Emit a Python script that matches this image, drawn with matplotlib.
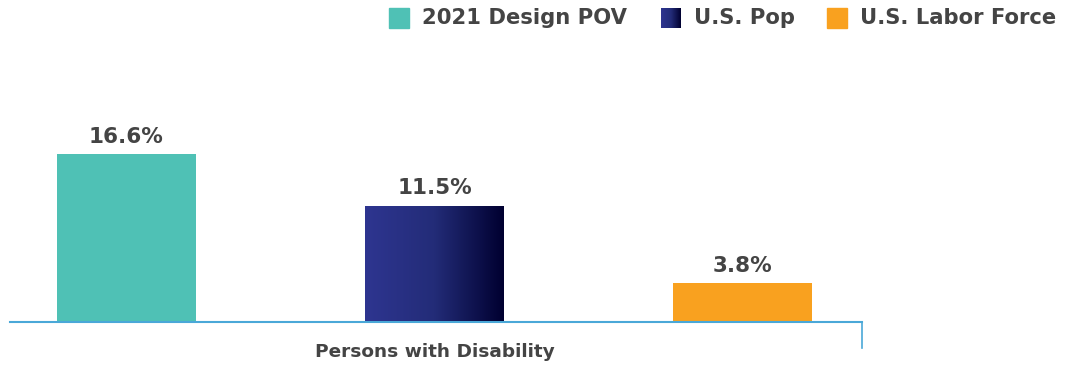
import numpy as np
import matplotlib.pyplot as plt
from matplotlib.patches import Rectangle
from matplotlib.colors import LinearSegmentedColormap

# data
series = ['2021 Design POV', 'U.S. Pop', 'U.S. Labor Force']
values = [16.6, 11.5, 3.8]
category = 'Persons with Disability'

teal = '#4FC1B5'
orange = '#F9A11F'
navy_left = '#2E3590'
navy_right = '#000030'
axis_blue = '#4AA8D8'
text_col = '#444444'

plt.rcParams['font.family'] = ['DejaVu Sans']

W, H = 1069, 367
fig = plt.figure(figsize=(W / 100, H / 100), dpi=100)

# axes placement in pixels
x0, x1 = 10, 862
base = 321.5
ax = fig.add_axes([x0 / W, (H - base) / H, (x1 - x0) / W, (base - 120) / H])
ax.set_xlim(-0.378, 2.388)
ax.set_ylim(0, 20)
for s in ['top', 'right', 'left']:
    ax.spines[s].set_visible(False)
ax.spines['bottom'].set_color(axis_blue)
ax.spines['bottom'].set_linewidth(1.5)
ax.set_xticks([])
ax.set_yticks([])
ax.patch.set_alpha(0)

xs = np.arange(len(values))
width = 0.451
bars = ax.bar(xs, values, width=width, color=[teal, navy_left, orange], zorder=2)

# gradient for the U.S. Pop bar
grad = np.linspace(0, 1, 256).reshape(1, -1)
cmap = LinearSegmentedColormap.from_list('navy', [navy_left, '#232C78', navy_right])
b = bars[1]
im = ax.imshow(grad, cmap=cmap, aspect='auto', zorder=3,
               extent=[b.get_x(), b.get_x() + b.get_width(), 0, b.get_height()])
im.set_clip_path(b)

for xi, v in zip(xs, values):
    ax.text(xi, v + 0.75, f'{v}%', ha='center', va='bottom', fontsize=15.5,
            fontweight='bold', color=text_col)

# right end tick of axis
ax.plot([2.388, 2.388], [0, -2.65], color=axis_blue, lw=1.2, clip_on=False)

ax.text(1, -3.05, category, ha='center', va='center', fontsize=13.3,
        fontweight='bold', color=text_col)

# legend drawn by hand
leg_x = [389, 661, 827]
sq = 20
top = 8
for i, (name, lx) in enumerate(zip(series, leg_x)):
    if i == 1:
        lax = fig.add_axes([lx / W, (H - top - sq) / H, sq / W, sq / H])
        lax.imshow(grad, cmap=cmap, aspect='auto')
        lax.axis('off')
    else:
        fig.patches.append(Rectangle((lx / W, (H - top - sq) / H), sq / W, sq / H,
                                     transform=fig.transFigure,
                                     color=[teal, navy_left, orange][i]))
    fig.text((lx + sq + 13) / W, (H - top - sq / 2) / H, name, ha='left',
             va='center', fontsize=15.2, fontweight='bold', color=text_col)

fig.savefig('out.png', dpi=100)
